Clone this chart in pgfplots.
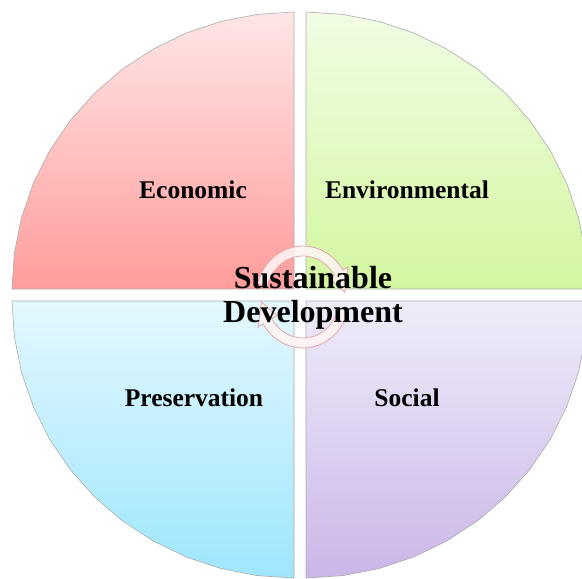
\documentclass[border=0pt]{standalone}
\usepackage{pgfplots}
\pgfplotsset{compat=1.18}
\usepackage{pgfplotstable}
\usepackage{fontspec}
\setmainfont{Liberation Serif}
\definecolor{tlTop}{HTML}{FFE6E6}
\definecolor{tlBot}{HTML}{FF9C9C}
\definecolor{trTop}{HTML}{F0FDE4}
\definecolor{trBot}{HTML}{D4F6A0}
\definecolor{blTop}{HTML}{E4F8FF}
\definecolor{blBot}{HTML}{9EE6FD}
\definecolor{brTop}{HTML}{EFECF9}
\definecolor{brBot}{HTML}{CBB6E8}
\definecolor{ringFill}{HTML}{FFF4F4}
\definecolor{ringDraw}{HTML}{E0AEAE}
\definecolor{edge}{HTML}{ABABAB}
% quarter-circle outline: centre, arc (rx=282, ry=277), back to centre
\pgfplotstableread{
dx dy
0 0
282 0
279.59 36.16
272.39 71.69
260.53 106.00
244.22 138.5
223.72 168.63
199.41 195.87
171.67 219.76
141 239.89
107.92 255.91
72.99 267.56
36.81 274.63
0 277
0 0
}\quarter
\begin{document}
\begin{tikzpicture}
\begin{axis}[width=582pt,height=579pt,scale only axis,
  xmin=0,xmax=582,ymin=0,ymax=579,hide axis,clip=true]
% Economic (top left)
\addplot[draw=edge,line width=0.6pt,top color=tlTop,bottom color=tlBot]
  table[x expr=294-\thisrow{dx},y expr=290+\thisrow{dy}]{\quarter};
% Environmental (top right)
\addplot[draw=edge,line width=0.6pt,top color=trTop,bottom color=trBot]
  table[x expr=306+\thisrow{dx},y expr=290+\thisrow{dy}]{\quarter};
% Preservation (bottom left)
\addplot[draw=edge,line width=0.6pt,top color=blTop,bottom color=blBot]
  table[x expr=294-\thisrow{dx},y expr=278-\thisrow{dy}]{\quarter};
% Social (bottom right)
\addplot[draw=edge,line width=0.6pt,top color=brTop,bottom color=brBot]
  table[x expr=306+\thisrow{dx},y expr=278-\thisrow{dy}]{\quarter};
% central cycle arrows
\begin{scope}[shift={(axis cs:303,282)}]
\filldraw[fill=ringFill,fill opacity=0.88,draw=ringDraw,line width=0.9pt]
  (165:47pt and 51pt) arc[start angle=165,end angle=32,x radius=47pt,y radius=51pt]
  -- (32:53pt and 57pt) -- (6:42pt and 46pt) -- (32:31pt and 35pt)
  -- (32:37pt and 41pt) arc[start angle=32,end angle=165,x radius=37pt,y radius=41pt] -- cycle;
\filldraw[fill=ringFill,fill opacity=0.88,draw=ringDraw,line width=0.9pt]
  (345:47pt and 51pt) arc[start angle=345,end angle=212,x radius=47pt,y radius=51pt]
  -- (212:53pt and 57pt) -- (186:42pt and 46pt) -- (212:31pt and 35pt)
  -- (212:37pt and 41pt) arc[start angle=212,end angle=345,x radius=37pt,y radius=41pt] -- cycle;
\end{scope}
\node[font=\bfseries\fontsize{25.5}{30}\selectfont] at (axis cs:193,389) {Economic};
\node[font=\bfseries\fontsize{25.5}{30}\selectfont] at (axis cs:407,389) {Environmental};
\node[font=\bfseries\fontsize{25.5}{30}\selectfont] at (axis cs:194,181) {Preservation};
\node[font=\bfseries\fontsize{25.5}{30}\selectfont] at (axis cs:407,181) {Social};
\node[font=\bfseries\fontsize{32}{37}\selectfont] at (axis cs:313,301) {Sustainable};
\node[font=\bfseries\fontsize{32}{37}\selectfont] at (axis cs:313,264) {Development};
\end{axis}
\pgfresetboundingbox
\path (current axis.south west) rectangle (current axis.north east);
\end{tikzpicture}
\end{document}
